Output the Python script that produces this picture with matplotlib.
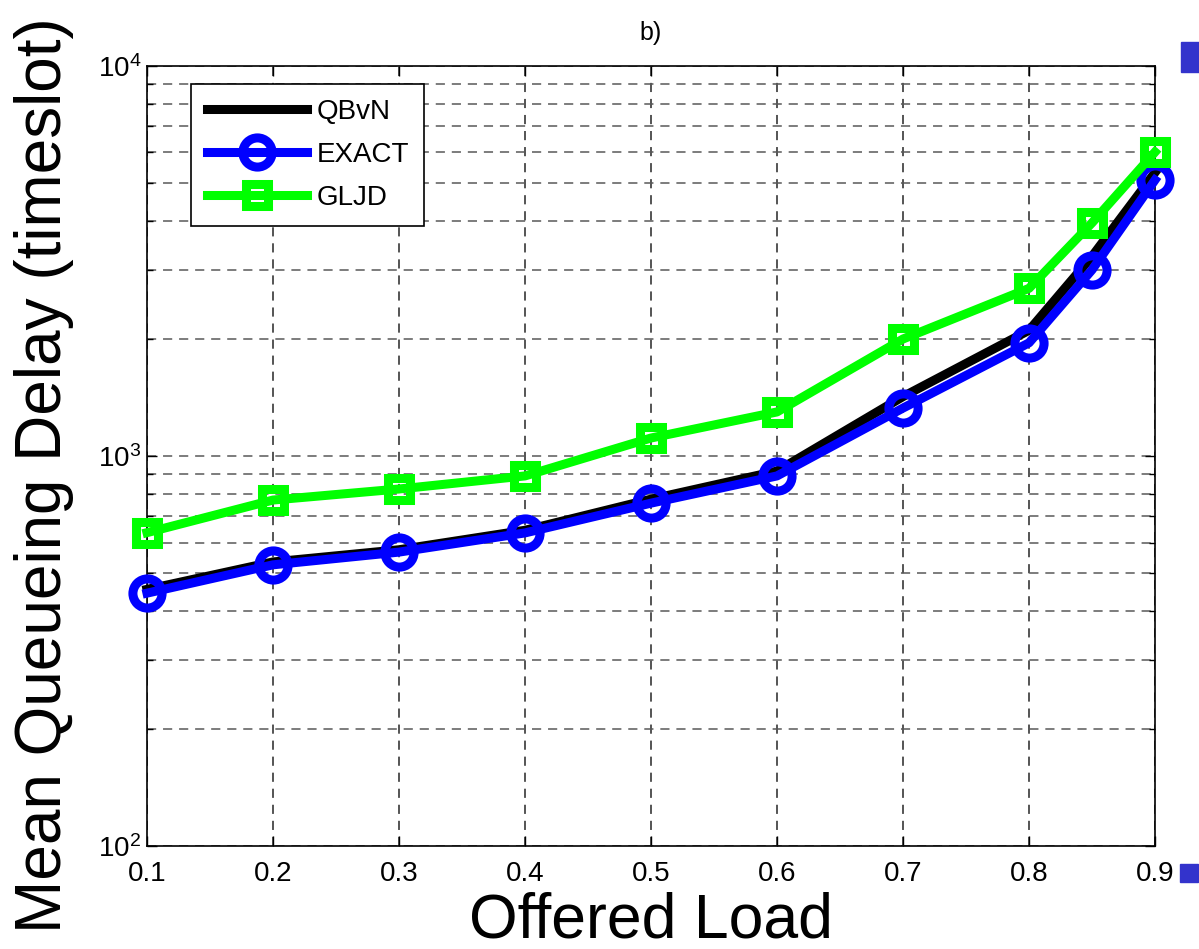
import matplotlib
matplotlib.use("Agg")
import matplotlib.pyplot as plt
from matplotlib.ticker import LogLocator, NullFormatter, FixedLocator
from matplotlib.patches import Rectangle

load = [0.1, 0.2, 0.3, 0.4, 0.5, 0.6, 0.7, 0.8, 0.85, 0.9]
qbvn = [455, 535, 575, 645, 775, 915, 1420, 2100, 3250, 5330]
exact = [445, 526, 567, 635, 757, 889, 1327, 1950, 3000, 5100]
gljd = [636, 771, 823, 889, 1112, 1297, 1995, 2690, 3960, 6017]
xticks = [0.1, 0.2, 0.3, 0.4, 0.5, 0.6, 0.7, 0.8, 0.9]
xticklabels = ["0.1", "0.2", "0.3", "0.4", "0.5", "0.6", "0.7", "0.8", "0.9"]

plt.rcParams['font.family'] = ['Liberation Sans', 'DejaVu Sans']
plt.rcParams['mathtext.fontset'] = 'custom'
plt.rcParams['mathtext.rm'] = 'Liberation Sans'
plt.rcParams['mathtext.it'] = 'Liberation Sans'
plt.rcParams['mathtext.default'] = 'regular'

fig = plt.figure(figsize=(11.99, 9.49), dpi=100)
ax = fig.add_axes([0.1226, 0.1085, 0.8407, 0.822])

lw = 6.5
ax.plot(load, qbvn, color='black', lw=lw, label='QBvN', zorder=3, clip_on=False)
ax.plot(load, exact, color='#0000ff', lw=lw, marker='o', ms=21, mew=6.5,
        mfc='none', label='EXACT', zorder=4, clip_on=False)
ax.plot(load, gljd, color='#00ff00', lw=lw, marker='s', ms=16, mew=6.5,
        mfc='none', label='GLJD', zorder=5, clip_on=False)

ax.set_yscale('log')
ax.set_xlim(0.1, 0.9)
ax.set_ylim(100, 10000)
ax.xaxis.set_major_locator(FixedLocator(xticks))
ax.set_xticklabels(xticklabels)
ax.yaxis.set_major_locator(LogLocator(base=10, numticks=10))
ax.yaxis.set_minor_locator(LogLocator(base=10, subs=range(2, 10), numticks=20))
ax.yaxis.set_minor_formatter(NullFormatter())

ax.grid(True, which='major', axis='x', linestyle=(0, (6, 4.5)), color='0.15', lw=1.1)
ax.grid(True, which='both', axis='y', linestyle=(0, (6, 4.5)), color='0.35', lw=1.1)

ax.tick_params(axis='both', which='both', direction='in', top=True, right=True,
               labelsize=20, width=1, pad=11)
ax.tick_params(axis='both', which='major', length=7)
ax.tick_params(axis='both', which='minor', length=4)
ax.tick_params(axis='y', pad=4)
for s in ax.spines.values():
    s.set_linewidth(1.2)

ax.set_title('b)', fontsize=18, pad=19)
ax.set_xlabel('Offered Load', fontsize=45, labelpad=3)
ax.set_ylabel('Mean Queueing Delay (timeslot)', fontsize=46)
ax.yaxis.set_label_coords(-0.072, 0.4756)

leg = ax.legend(loc='upper left', bbox_to_anchor=(0.044, 0.977), fontsize=20,
                numpoints=1, handlelength=3.6, borderpad=0.55, labelspacing=0.6,
                handletextpad=0.35, fancybox=False, framealpha=1, borderaxespad=0)
leg.get_frame().set_edgecolor('black')
leg.get_frame().set_linewidth(1.2)

fig.patches.append(Rectangle((1181/1199, 1-72/949), 18/1199, 30/949,
                             transform=fig.transFigure, color='#3333cc', zorder=10))
fig.patches.append(Rectangle((1180/1199, 1-882/949), 18/1199, 18/949,
                             transform=fig.transFigure, color='#3333cc', zorder=10))

fig.savefig('out.png', dpi=100)
